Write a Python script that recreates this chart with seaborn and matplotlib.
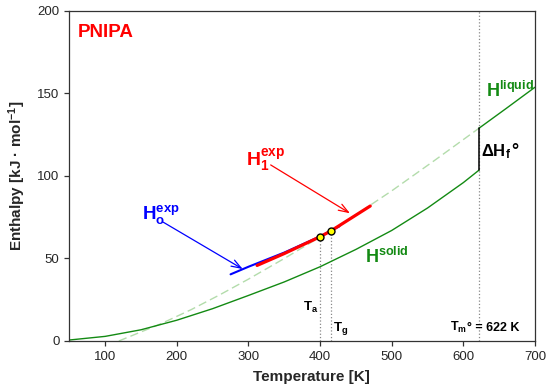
import numpy as np
import pandas as pd
import matplotlib
matplotlib.use('Agg')
import matplotlib.pyplot as plt
import seaborn as sns

# 读图得到的数据
solid_T = [50, 100, 150, 200, 250, 300, 350, 400, 450, 500, 550, 600, 622]
solid_H = [0.6, 2.8, 6.8, 12.6, 19.6, 27.6, 35.8, 45.0, 55.5, 67.0, 80.6, 96.0, 103.6]

liq_ext_T = [119, 150, 178, 220, 260, 300, 350, 400, 450, 500, 560, 622]
liq_ext_H = [0.0, 5.5, 10.5, 19.0, 28.0, 37.5, 50.0, 63.0, 76.5, 91.0, 109.5, 129.0]

liq_T = [622, 660, 700]
liq_H = [129.0, 141.0, 153.8]

h0_T = [275, 300, 350, 400, 415, 427]
h0_H = [40.4, 45.0, 53.6, 63.4, 66.8, 69.5]

h1_T = [312, 350, 400, 415, 430, 450, 470]
h1_H = [45.8, 53.0, 63.2, 66.7, 70.8, 76.3, 81.8]

T_a, T_g, T_m = 400, 415, 622
H_a, H_g = 63.2, 66.7
dH_low, dH_high = 103.6, 129.0

x_ticks = [100, 200, 300, 400, 500, 600, 700]
y_ticks = [0, 50, 100, 150, 200]

sns.set_style('ticks')
plt.rcParams['font.family'] = ['Liberation Sans', 'DejaVu Sans']
plt.rcParams['mathtext.fontset'] = 'custom'
plt.rcParams['mathtext.rm'] = 'Liberation Sans'
plt.rcParams['mathtext.bf'] = 'Liberation Sans:bold'
plt.rcParams['mathtext.it'] = 'Liberation Sans:italic'

green = '#138a13'
fig = plt.figure(figsize=(5.5, 3.91), dpi=100)
ax = fig.add_axes([0.1262, 0.1279, 0.8465, 0.844])

# 竖直虚线
ax.plot([T_a, T_a], [0, H_a], color='#888888', ls=':', lw=0.9, zorder=1)
ax.plot([T_g, T_g], [0, H_g], color='#888888', ls=':', lw=0.9, zorder=1)
ax.plot([T_m, T_m], [0, 200], color='#888888', ls=':', lw=0.9, zorder=1)

sns.lineplot(x=liq_ext_T, y=liq_ext_H, ax=ax, color='#b3dcab', lw=1.0,
             linestyle=(0, (6, 3)), estimator=None, zorder=2)
sns.lineplot(x=solid_T, y=solid_H, ax=ax, color=green, lw=1.0, estimator=None, zorder=2)
sns.lineplot(x=liq_T, y=liq_H, ax=ax, color=green, lw=1.0, estimator=None, zorder=2)
ax.plot([T_m, T_m], [dH_low, dH_high], color='black', lw=1.1, zorder=3)

sns.lineplot(x=h0_T, y=h0_H, ax=ax, color='blue', lw=1.5, estimator=None, zorder=3)
sns.lineplot(x=h1_T, y=h1_H, ax=ax, color='red', lw=2.3, estimator=None, zorder=4)
sns.scatterplot(x=[T_a, T_g], y=[H_a, H_g], ax=ax, color='yellow', edgecolor='black',
                linewidth=1.0, s=25, zorder=5)

# 箭头
ax.annotate('', xy=(292, 43.6), xytext=(181, 72),
            arrowprops=dict(arrowstyle='->,head_length=0.7,head_width=0.25',
                            color='blue', lw=0.9, shrinkA=0, shrinkB=0))
ax.annotate('', xy=(441.7, 77.4), xytext=(331, 106.7),
            arrowprops=dict(arrowstyle='->,head_length=0.7,head_width=0.25',
                            color='red', lw=0.9, shrinkA=0, shrinkB=0))

# 文字
ax.text(62, 184.2, 'PNIPA', color='red', fontsize=13.5, fontweight='bold', va='baseline')
ax.text(151, 73.3, r'$\mathbf{H_o^{exp}}$', color='blue', fontsize=13.5, va='baseline')
ax.text(296, 106.2, r'$\mathbf{H_1^{exp}}$', color='red', fontsize=14, va='baseline')
ax.text(631.6, 148, r'$\mathbf{H^{liquid}}$', color=green, fontsize=13, va='baseline')
ax.text(463, 47.1, r'$\mathbf{H^{solid}}$', color=green, fontsize=13, va='baseline')
dh = ax.text(624.5, 111.7, r'$\mathbf{\Delta H_f}$', color='black', fontsize=12, va='baseline')
ax.annotate('°', xy=(1, 112.3), xycoords=(dh, 'data'), xytext=(0.5, 0),
            textcoords='offset points', color='black', fontsize=13, fontweight='bold',
            va='baseline', ha='left')
ax.text(376, 18.2, r'$\mathbf{T_a}$', color='black', fontsize=9.5, va='baseline')
ax.text(418, 6.1, r'$\mathbf{T_g}$', color='black', fontsize=9.5, va='baseline')
tm = ax.text(582, 6.1, r'$\mathbf{T_m}$', color='black', fontsize=9, va='baseline')
ax.annotate('° = 622 K', xy=(1, 6.1), xycoords=(tm, 'data'), xytext=(0, 0),
            textcoords='offset points', color='black', fontsize=9, fontweight='bold',
            va='baseline', ha='left')

ax.set_xlim(50, 700)
ax.set_ylim(0, 200)
ax.set_xticks(x_ticks)
ax.set_yticks(y_ticks)
ax.tick_params(direction='out', length=3.6, width=0.9, labelsize=9.5, color='#333333')
for sp in ax.spines.values():
    sp.set_visible(True)
    sp.set_color('#333333')
    sp.set_linewidth(0.9)

ax.set_xlabel('Temperature [K]', fontsize=11, fontweight='bold')
ax.set_ylabel(r'Enthalpy [kJ · mol$^{\mathbf{-1}}$]', fontsize=11, fontweight='bold')
ax.xaxis.set_label_coords(0.519, -0.088)
ax.yaxis.set_label_coords(-0.09, 0.5)

fig.savefig('out.png', dpi=100)
